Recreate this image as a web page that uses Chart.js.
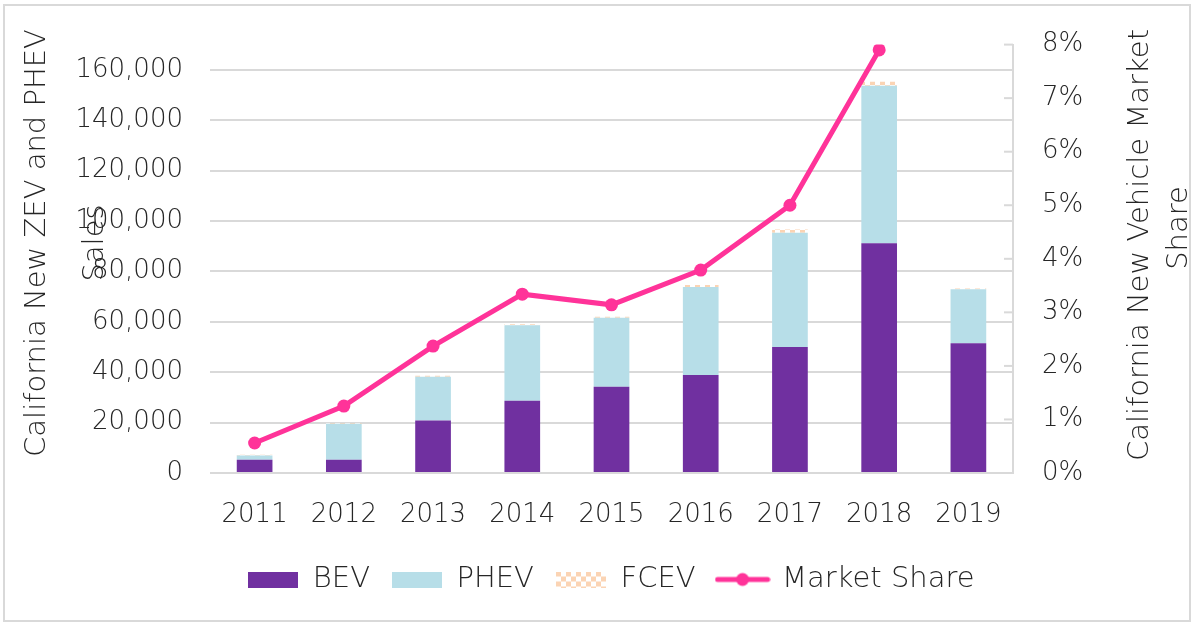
<!DOCTYPE html>
<html>
<head>
<meta charset="utf-8">
<title>California ZEV and PHEV Sales</title>
<script src="https://cdn.jsdelivr.net/npm/chart.js@4.4.1/dist/chart.umd.min.js"></script>
<style>
  html, body { margin: 0; padding: 0; background: #fff; }
  #wrap { position: relative; width: 1193px; height: 626px; }
</style>
</head>
<body>
<div id="wrap"><canvas id="zevChart" width="1193" height="626"></canvas></div>
<script>
// Data
const years = ['2011', '2012', '2013', '2014', '2015', '2016', '2017', '2018', '2019'];
const bevSales = [5300, 5300, 20800, 28700, 34200, 38900, 50000, 91200, 51500];
const phevSales = [1600, 14200, 17400, 29900, 27400, 34900, 45300, 62500, 21400];
const fcevSales = [300, 300, 400, 400, 400, 800, 1300, 1600, 300];
const marketShare = [0.56, 1.25, 2.37, 3.34, 3.14, 3.79, 5.0, 7.9, null]; // percent
const salesTicks = [0, 20000, 40000, 60000, 80000, 100000, 120000, 140000, 160000];
const shareTicks = [0, 1, 2, 3, 4, 5, 6, 7, 8];
const seriesNames = ['BEV', 'PHEV', 'FCEV', 'Market Share'];
const leftTitle = ['California New ZEV and PHEV', 'Sales'];
const rightTitle = ['California New Vehicle Market', 'Share'];

const purple = '#7030A0';
const lightBlue = '#B7DEE8';
const peach = '#FBD4B4';
const pink = '#FF3399';
const gridGrey = '#d9d9d9';
const textColor = '#262626';
const fontFamily = '"DejaVu Sans", sans-serif';
const fontWeight = '200';

// checkered fill used by Excel for the FCEV series
function makeChecker(size) {
    const c = document.createElement('canvas');
    c.width = size * 2;
    c.height = size * 2;
    const g = c.getContext('2d');
    g.fillStyle = '#ffffff';
    g.fillRect(0, 0, c.width, c.height);
    g.fillStyle = peach;
    g.fillRect(0, 0, size, size);
    g.fillRect(size, size, size, size);
    return c;
}

const ctx = document.getElementById('zevChart').getContext('2d');
const fcevPattern = ctx.createPattern(makeChecker(5), 'repeat');

// legend swatches
function boxSwatch(fill) {
    const c = document.createElement('canvas');
    c.width = 50; c.height = 16;
    const g = c.getContext('2d');
    g.fillStyle = fill === 'checker' ? g.createPattern(makeChecker(5), 'repeat') : fill;
    g.fillRect(0, 0, 50, 16);
    return c;
}
function lineSwatch() {
    const c = document.createElement('canvas');
    c.width = 56; c.height = 16;
    const g = c.getContext('2d');
    g.strokeStyle = pink;
    g.lineWidth = 5;
    g.lineCap = 'round';
    g.beginPath(); g.moveTo(3, 8); g.lineTo(53, 8); g.stroke();
    g.fillStyle = pink;
    g.beginPath(); g.arc(28, 8, 6.5, 0, Math.PI * 2); g.fill();
    return c;
}
const swatches = [boxSwatch(purple), boxSwatch(lightBlue), boxSwatch('checker'), lineSwatch()];

const frameAndTitles = {
    id: 'frameAndTitles',
    beforeDraw(chart) {
        const c = chart.ctx;
        c.save();
        c.strokeStyle = gridGrey;
        c.lineWidth = 2;
        c.strokeRect(4, 5, 1186, 616);
        c.restore();
    },
    afterDraw(chart) {
        const c = chart.ctx;
        const y1 = chart.scales.y1;
        c.save();
        // tick marks on the share axis point inwards
        c.strokeStyle = gridGrey;
        c.lineWidth = 2;
        y1.ticks.forEach(t => {
            const py = y1.getPixelForValue(t.value);
            c.beginPath();
            c.moveTo(y1.left - 9, py);
            c.lineTo(y1.left, py);
            c.stroke();
        });
        // axis titles
        c.fillStyle = textColor;
        c.font = fontWeight + ' 29px ' + fontFamily;
        c.textAlign = 'center';
        c.textBaseline = 'middle';
        const put = (txt, x, y) => {
            c.save();
            c.translate(x, y);
            c.rotate(-Math.PI / 2);
            c.fillText(txt, 0, 0);
            c.restore();
        };
        put(leftTitle[0], 37, 243);
        put(leftTitle[1], 95, 243);
        put(rightTitle[0], 1140, 245);
        put(rightTitle[1], 1179, 228);
        c.restore();
    }
};

Chart.defaults.color = textColor;
Chart.defaults.font.family = fontFamily;
Chart.defaults.font.size = 26;
Chart.defaults.font.weight = fontWeight;

new Chart(ctx, {
    type: 'bar',
    data: {
        labels: years,
        datasets: [
            { label: seriesNames[0], data: bevSales, backgroundColor: purple, yAxisID: 'y', order: 1 },
            { label: seriesNames[1], data: phevSales, backgroundColor: lightBlue, yAxisID: 'y', order: 1 },
            { label: seriesNames[2], data: fcevSales, backgroundColor: fcevPattern, yAxisID: 'y', order: 1 },
            {
                type: 'line',
                label: seriesNames[3],
                data: marketShare,
                yAxisID: 'y1',
                borderColor: pink,
                backgroundColor: pink,
                borderWidth: 5,
                pointRadius: 6.5,
                pointBackgroundColor: pink,
                pointBorderWidth: 0,
                tension: 0,
                order: 0
            }
        ]
    },
    options: {
        responsive: false,
        animation: false,
        layout: { padding: { top: 42, left: 0, right: 0, bottom: 22 } },
        datasets: {
            bar: { categoryPercentage: 1, barPercentage: 0.4 }
        },
        scales: {
            x: {
                stacked: true,
                grid: { display: false },
                border: { display: false },
                ticks: { padding: 19 },
                afterFit(scale) { scale.height = 70; }
            },
            y: {
                stacked: true,
                position: 'left',
                min: 0,
                max: 170000,
                grid: { color: gridGrey, lineWidth: 2, drawTicks: false },
                border: { display: false },
                ticks: {
                    padding: 27,
                    callback: v => v.toLocaleString('en-US')
                },
                afterBuildTicks(scale) { scale.ticks = salesTicks.map(v => ({ value: v })); },
                afterFit(scale) { scale.width = 210; }
            },
            y1: {
                position: 'right',
                min: 0,
                max: 8,
                grid: { drawOnChartArea: false, drawTicks: false },
                border: { display: true, color: gridGrey, width: 2 },
                ticks: {
                    padding: 29,
                    callback: v => v + '%'
                },
                afterBuildTicks(scale) { scale.ticks = shareTicks.map(v => ({ value: v })); },
                afterFit(scale) { scale.width = 180; }
            }
        },
        plugins: {
            tooltip: { enabled: false },
            legend: {
                position: 'bottom',
                fullSize: false,
                labels: {
                    usePointStyle: true,
                    pointStyleWidth: 50,
                    boxHeight: 16,
                    padding: 22,
                    font: { size: 29 },
                    generateLabels(chart) {
                        return chart.data.datasets.map((ds, i) => ({
                            text: ds.label,
                            pointStyle: swatches[i],
                            fontColor: textColor,
                            lineWidth: 0,
                            hidden: false,
                            datasetIndex: i
                        }));
                    }
                }
            }
        }
    },
    plugins: [frameAndTitles]
});
</script>
</body>
</html>
